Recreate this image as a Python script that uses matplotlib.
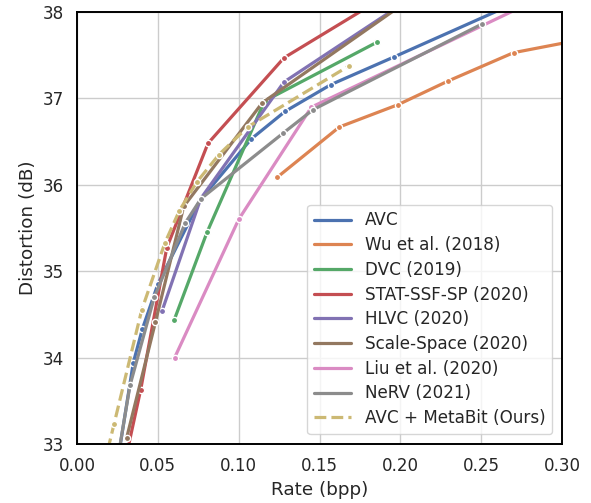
import matplotlib
matplotlib.use("Agg")
import matplotlib.pyplot as plt
import seaborn as sns

sns.set_theme(style="whitegrid", font_scale=1.1)
plt.rcParams["axes.edgecolor"] = "black"
plt.rcParams["axes.linewidth"] = 1.4

# rate (bpp) / distortion (dB)
avc_x = [0.026, 0.0348, 0.0404, 0.050, 0.076, 0.1077, 0.1287, 0.157, 0.196, 0.262]
avc_y = [32.9, 33.94, 34.33, 34.85, 35.82, 36.53, 36.85, 37.16, 37.48, 38.03]
wu_x = [0.124, 0.1623, 0.1988, 0.2293, 0.270, 0.32]
wu_y = [36.09, 36.67, 36.93, 37.20, 37.53, 37.71]
dvc_x = [0.0602, 0.0804, 0.116, 0.1854]
dvc_y = [34.44, 35.45, 36.97, 37.65]
stat_x = [0.0315, 0.0394, 0.0555, 0.081, 0.128, 0.18]
stat_y = [32.95, 33.63, 35.27, 36.48, 37.47, 38.06]
hlvc_x = [0.0526, 0.0765, 0.128, 0.20]
hlvc_y = [34.54, 35.84, 37.19, 38.08]
ss_x = [0.0307, 0.0485, 0.066, 0.1146, 0.20]
ss_y = [33.07, 34.41, 35.75, 36.95, 38.07]
liu_x = [0.0604, 0.100, 0.145, 0.275]
liu_y = [34.0, 35.60, 36.90, 38.06]
nerv_x = [0.026, 0.0328, 0.0478, 0.067, 0.0767, 0.1276, 0.146, 0.2503]
nerv_y = [32.92, 33.68, 34.70, 35.56, 35.84, 36.60, 36.87, 37.86]
meta_x = [0.019, 0.0229, 0.040, 0.0544, 0.0633, 0.074, 0.0878, 0.1056, 0.1685]
meta_y = [32.93, 33.23, 34.55, 35.33, 35.70, 36.03, 36.35, 36.67, 37.38]

series = [
    ("AVC", avc_x, avc_y, "-"),
    ("Wu et al. (2018)", wu_x, wu_y, "-"),
    ("DVC (2019)", dvc_x, dvc_y, "-"),
    ("STAT-SSF-SP (2020)", stat_x, stat_y, "-"),
    ("HLVC (2020)", hlvc_x, hlvc_y, "-"),
    ("Scale-Space (2020)", ss_x, ss_y, "-"),
    ("Liu et al. (2020)", liu_x, liu_y, "-"),
    ("NeRV (2021)", nerv_x, nerv_y, "-"),
    ("AVC + MetaBit (Ours)", meta_x, meta_y, "--"),
]

colors = sns.color_palette("deep")

fig, ax = plt.subplots(figsize=(5.91, 5.03), dpi=100)
fig.subplots_adjust(left=0.1303, right=0.951, top=0.976, bottom=0.1173)

for i, (name, xs, ys, ls) in enumerate(series):
    ax.plot(xs, ys, ls, color=colors[i], lw=2.3, marker="o", ms=4.5,
            mec="white", mew=1, label=name)

ax.set_xlim(0, 0.30)
ax.set_ylim(33, 38)
ax.set_xlabel("Rate (bpp)")
ax.set_ylabel("Distortion (dB)")

leg = ax.legend(loc="lower right", handlelength=2.2, labelspacing=0.4,
                borderaxespad=0.6)
for h in leg.get_lines():
    h.set_marker("")

fig.savefig("out.png")
